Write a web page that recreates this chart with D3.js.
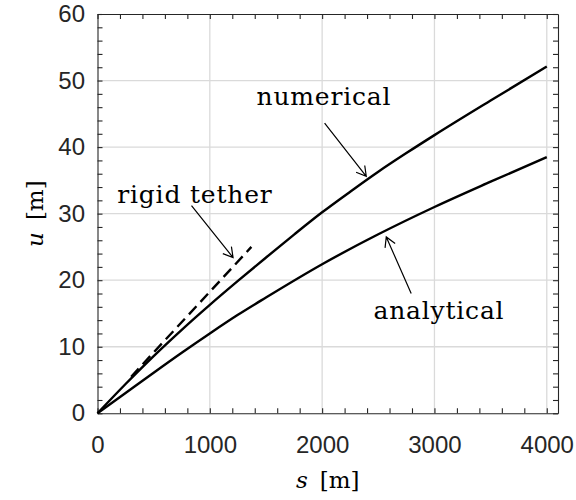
<!DOCTYPE html>
<html>
<head>
<meta charset="utf-8">
<script src="https://cdn.jsdelivr.net/npm/d3@7"></script>
<style>
  body { margin: 0; background: #fff; }
  .tick text { font-family: "Liberation Sans", Arial, sans-serif; font-size: 24px; fill: #262626; }
  .lbl { font-family: "DejaVu Serif", serif; fill: #000; }
</style>
</head>
<body>
<svg id="chart"></svg>
<script>
let w = 576;
let h = 500;

// numerical solution
let sNum = [0, 250, 500, 750, 1000, 1250, 1500, 1750, 2000, 2250, 2500, 2750, 3000, 3500, 4000];
let uNum = [0, 4.4, 8.6, 12.55, 16.3, 19.9, 23.4, 26.85, 30.2, 33.3, 36.3, 39.1, 41.8, 47.0, 52.1];
// analytical solution
let sAna = [0, 250, 500, 750, 1000, 1250, 1500, 2000, 2500, 3000, 3500, 4000];
let uAna = [0, 3.05, 6.1, 9.1, 12.0, 14.8, 17.4, 22.4, 26.9, 31.0, 34.8, 38.5];
// rigid tether (dashed)
let sRigid = [300, 1370];
let uRigid = [5.5, 25.0];

let xTicks = [0, 1000, 2000, 3000, 4000];
let yTicks = [0, 10, 20, 30, 40, 50, 60];

// annotations: text position and arrow tail -> tip, in data units
let notes = [
  { text: "rigid tether", s: 867, u: 31.6, tail: [837, 31.2], tip: [1207, 23.4] },
  { text: "numerical", s: 2016, u: 46.3, tail: [2022, 43.6], tip: [2393, 35.6] },
  { text: "analytical", s: 3040, u: 14.15, tail: [2793, 18.0], tip: [2571, 26.5] }
];

let mLeft = 97.5, mTop = 14, mRight = 558, mBottom = 413.3;

let svg = d3.select("#chart").attr("width", w).attr("height", h);

let xScale = d3.scaleLinear().domain([0, 4100]).range([mLeft, mRight]);
let yScale = d3.scaleLinear().domain([0, 60]).range([mBottom, mTop]);

// grid
let grid = svg.append("g").attr("stroke", "#dadada").attr("stroke-width", 1.3);
grid.selectAll(".gx").data(xTicks.filter(d => d > 0)).enter().append("line")
  .attr("x1", d => xScale(d)).attr("x2", d => xScale(d))
  .attr("y1", mTop).attr("y2", mBottom);
grid.selectAll(".gy").data(yTicks.filter(d => d > 0 && d < 60)).enter().append("line")
  .attr("y1", d => yScale(d)).attr("y2", d => yScale(d))
  .attr("x1", mLeft).attr("x2", mRight);

// axes (ticks inward, minor ticks too)
let xMinor = d3.range(0, 4001, 200);
let yMinor = d3.range(0, 61, 2);
let fmtX = d => (d % 1000 === 0 ? d : "");
let fmtY = d => (d % 10 === 0 ? d : "");

let xAxis = d3.axisBottom(xScale).tickValues(xMinor).tickFormat(fmtX)
  .tickSizeInner(-5).tickSizeOuter(0).tickPadding(23);
let yAxis = d3.axisLeft(yScale).tickValues(yMinor).tickFormat(fmtY)
  .tickSizeInner(-5).tickSizeOuter(0).tickPadding(12.5);
let xAxisTop = d3.axisTop(xScale).tickValues(xMinor).tickFormat("")
  .tickSizeInner(-5).tickSizeOuter(0);
let yAxisRight = d3.axisRight(yScale).tickValues(yMinor).tickFormat("")
  .tickSizeInner(-5).tickSizeOuter(0);

svg.append("g").attr("transform", `translate(0,${mBottom})`).call(xAxis);
svg.append("g").attr("transform", `translate(${mLeft},0)`).call(yAxis);
svg.append("g").attr("transform", `translate(0,${mTop})`).call(xAxisTop);
svg.append("g").attr("transform", `translate(${mRight},0)`).call(yAxisRight);
svg.selectAll(".domain, .tick line").attr("stroke", "#262626").attr("stroke-width", 1.1);

// curves
let line = d3.line().x(d => xScale(d[0])).y(d => yScale(d[1])).curve(d3.curveMonotoneX);
svg.append("path").datum(d3.zip(sNum, uNum)).attr("d", line)
  .attr("fill", "none").attr("stroke", "#000").attr("stroke-width", 2.4);
svg.append("path").datum(d3.zip(sAna, uAna)).attr("d", line)
  .attr("fill", "none").attr("stroke", "#000").attr("stroke-width", 2.4);
svg.append("path").datum(d3.zip(sRigid, uRigid)).attr("d", line)
  .attr("fill", "none").attr("stroke", "#000").attr("stroke-width", 2.4)
  .attr("stroke-dasharray", "11,6");

// annotations
notes.forEach(n => {
  svg.append("text").attr("class", "lbl")
    .attr("x", xScale(n.s)).attr("y", yScale(n.u))
    .attr("text-anchor", "middle")
    .style("font-size", "25px").style("letter-spacing", "0.8px")
    .text(n.text);
  let x1 = xScale(n.tail[0]), y1 = yScale(n.tail[1]);
  let x2 = xScale(n.tip[0]), y2 = yScale(n.tip[1]);
  let a = Math.atan2(y2 - y1, x2 - x1);
  let L = 11, spread = Math.PI / 6;
  let path = `M${x1},${y1}L${x2},${y2}` +
    `M${x2 - L * Math.cos(a - spread)},${y2 - L * Math.sin(a - spread)}L${x2},${y2}` +
    `L${x2 - L * Math.cos(a + spread)},${y2 - L * Math.sin(a + spread)}`;
  svg.append("path").attr("d", path).attr("fill", "none")
    .attr("stroke", "#000").attr("stroke-width", 1.2);
});

// axis labels
let xl = svg.append("text").attr("class", "lbl")
  .attr("x", (mLeft + mRight) / 2).attr("y", 488)
  .attr("text-anchor", "middle").style("font-size", "23px");
xl.append("tspan").style("font-style", "italic").text("s");
xl.append("tspan").attr("dx", 12).text("[m]");

let yl = svg.append("text").attr("class", "lbl")
  .attr("transform", `translate(43,${(mTop + mBottom) / 2}) rotate(-90)`)
  .attr("text-anchor", "middle").style("font-size", "23px");
yl.append("tspan").style("font-style", "italic").text("u");
yl.append("tspan").attr("dx", 12).text("[m]");
</script>
</body>
</html>
